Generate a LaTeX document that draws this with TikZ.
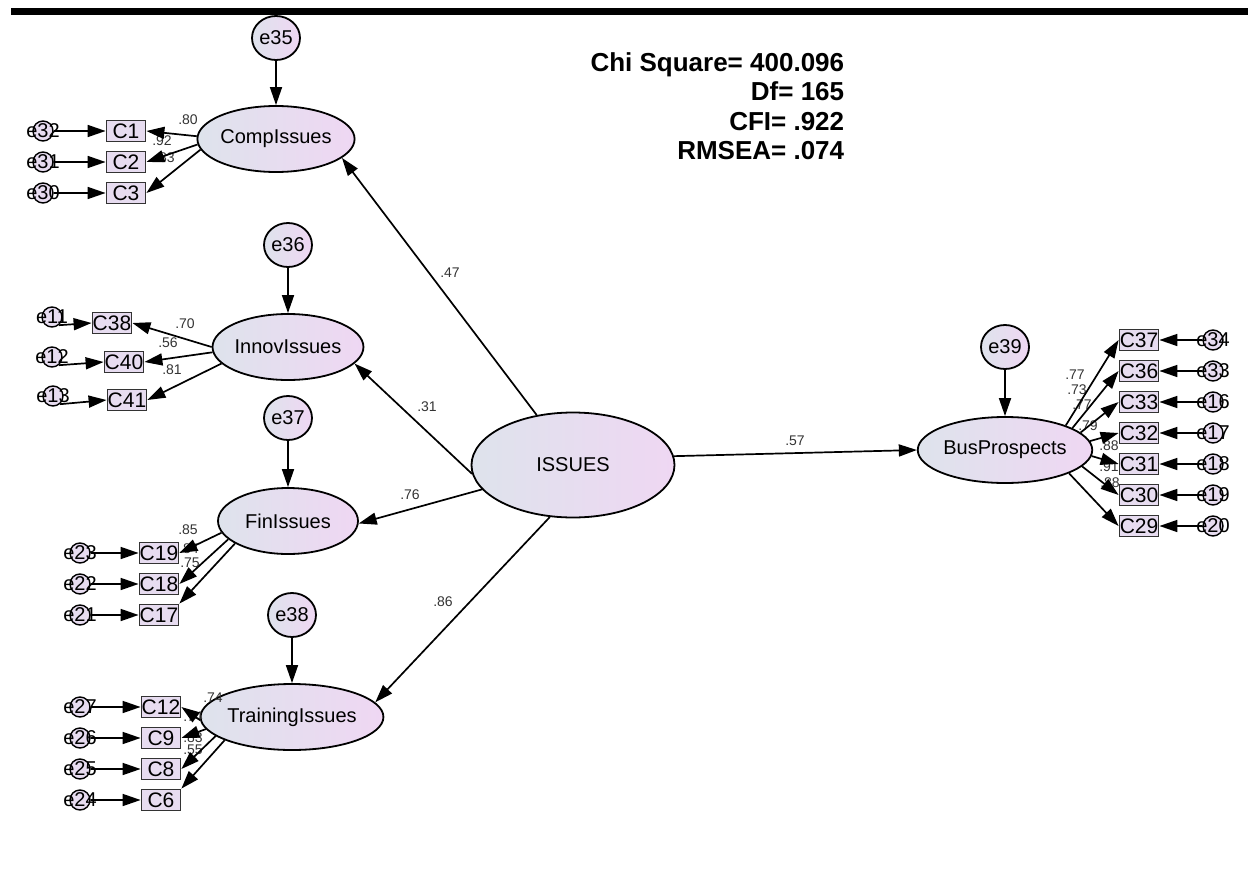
\documentclass[tikz,border=0pt]{standalone}
\usepackage{fontspec}
\setmainfont{Liberation Sans}
\usetikzlibrary{shapes.geometric,arrows.meta,positioning}
\definecolor{latL}{HTML}{DEE3EC}
\definecolor{latR}{HTML}{EFD7F3}
\definecolor{obsfill}{HTML}{E7DCF0}
\definecolor{lblgray}{HTML}{333333}

\begin{document}
\begin{tikzpicture}[x=1pt,y=-1pt,->,>={Triangle[length=18pt,width=12pt]},line width=1.7pt,
  lat/.style={ellipse,draw,line width=1.8pt,left color=latL,right color=latR,minimum width=140pt,minimum height=66pt,inner sep=0pt,font=\fontsize{20}{24}\selectfont},
  err/.style={ellipse,draw,line width=1.8pt,left color=latL,right color=latR,minimum width=48pt,minimum height=44pt,inner sep=0pt,font=\fontsize{20}{24}\selectfont},
  serr/.style={circle,draw,line width=1.4pt,fill=obsfill,minimum size=20pt,inner sep=0pt},
  stxt/.style={inner sep=0pt,font=\fontsize{20}{22}\selectfont},
  obs/.style={rectangle,draw=black!80,line width=1.8pt,fill=obsfill,minimum width=39pt,minimum height=21pt,inner sep=0pt,font=\fontsize{21}{22}\selectfont},
  lbl/.style={text=lblgray,inner sep=0pt,font=\fontsize{14}{16}\selectfont},
  stats/.style={align=right,inner sep=0pt,anchor=east,font=\bfseries\fontsize{26}{29.5}\selectfont}]
\useasboundingbox (0,0) rectangle (1248,886);
\fill[-] (11,8) rectangle (1248,15);

\node[stats](fit) at (845,106){Chi Square= 400.096\\Df= 165\\CFI= .922\\RMSEA= .074};

\node[lat,minimum width=203pt,minimum height=105pt](iss) at (573,465){ISSUES};
\node[lat](comp) at (276,139){CompIssues};
\node[lat](innov) at (288,347){InnovIssues};
\node[lat](fin) at (288,521){FinIssues};
\node[lat](train) at (292,717){TrainingIssues};
\node[lat](bus) at (1005,450){BusProspects};

\node[err](e35) at (276,38){e35};
\node[err](e36) at (288,245){e36};
\node[err](e37) at (288,418){e37};
\node[err](e38) at (292,615){e38};
\node[err](e39) at (1005,347){e39};

\node[obs](c1) at (126,131){C1};
\node[obs](c2)[below=8.2pt of c1]{C2};
\node[obs](c3)[below=8.2pt of c2]{C3};
\node[serr,label={[stxt]center:e32}](e32) at (43,131){};
\node[serr,label={[stxt]center:e31}](e31) at (43,162){};
\node[serr,label={[stxt]center:e30}](e30) at (43,193){};

\node[obs](c38) at (112,323){C38};
\node[obs](c40) at (124,362){C40};
\node[obs](c41) at (127,400){C41};
\node[serr,label={[stxt]center:e11}](e11) at (52,317){};
\node[serr,label={[stxt]center:e12}](e12) at (52,357){};
\node[serr,label={[stxt]center:e13}](e13) at (53,396){};

\node[obs](c19) at (159,553){C19};
\node[obs](c18)[below=8.2pt of c19]{C18};
\node[obs](c17)[below=8.2pt of c18]{C17};
\node[serr,label={[stxt]center:e23}](e23) at (80,553){};
\node[serr,label={[stxt]center:e22}](e22) at (80,584){};
\node[serr,label={[stxt]center:e21}](e21) at (80,615){};

\node[obs](c12) at (161,707){C12};
\node[obs](c9)[below=8.2pt of c12]{C9};
\node[obs](c8)[below=8.2pt of c9]{C8};
\node[obs](c6)[below=8.2pt of c8]{C6};
\node[serr,label={[stxt]center:e27}](e27) at (80,707){};
\node[serr,label={[stxt]center:e26}](e26) at (80,738){};
\node[serr,label={[stxt]center:e25}](e25) at (80,769){};
\node[serr,label={[stxt]center:e24}](e24) at (80,800){};

\node[obs](c37) at (1139,340){C37};
\node[obs](c36)[below=8.2pt of c37]{C36};
\node[obs](c33)[below=8.2pt of c36]{C33};
\node[obs](c32)[below=8.2pt of c33]{C32};
\node[obs](c31)[below=8.2pt of c32]{C31};
\node[obs](c30)[below=8.2pt of c31]{C30};
\node[obs](c29)[below=8.2pt of c30]{C29};
\node[serr,label={[stxt]center:e34}](e34) at (1213,340){};
\node[serr,label={[stxt]center:e33}](e33) at (1213,371){};
\node[serr,label={[stxt]center:e16}](e16) at (1213,402){};
\node[serr,label={[stxt]center:e17}](e17) at (1213,433){};
\node[serr,label={[stxt]center:e18}](e18) at (1213,464){};
\node[serr,label={[stxt]center:e19}](e19) at (1213,495){};
\node[serr,label={[stxt]center:e20}](e20) at (1213,526){};

\node[lbl](p47) at (450,273){.47};
\node[lbl](p31) at (427,407){.31};
\node[lbl](p76) at (410,495){.76};
\node[lbl](p86) at (443,602){.86};
\node[lbl](p57) at (795,441){.57};

\node[lbl](l1) at (188,120){.80};
\node[lbl](l2) at (162,141){.92};
\node[lbl](l3) at (165,158){.83};
\node[lbl](l38) at (185,324){.70};
\node[lbl](l40) at (168,343){.56};
\node[lbl](l41) at (172,370){.81};
\node[lbl](l19) at (188,530){.85};
\node[lbl](l18) at (189,549){.84};
\node[lbl](l17) at (190,563){.75};
\node[lbl](l12) at (213,698){.74};
\node[lbl](l9) at (193,717){.74};
\node[lbl](l8) at (193,738){.83};
\node[lbl](l6) at (193,750){.55};
\node[lbl](l37) at (1075,375){.77};
\node[lbl](l36) at (1077,390){.73};
\node[lbl](l33) at (1082,405){.77};
\node[lbl](l32) at (1088,426){.79};
\node[lbl](l31) at (1109,446){.88};
\node[lbl](l30) at (1109,467){.91};
\node[lbl](l29) at (1110,483){.88};

\path[->](iss.126)edge(comp.-16);
\path[->](iss.185)edge(innov.-14);
\path[->](iss.195)edge(fin.-2);
\path[->](iss.246)edge(train.10);
\path[->](iss.5)edge(bus.west);

\path[->](e35)edge(comp);
\path[->](e36)edge(innov);
\path[->](e37)edge(fin);
\path[->](e38)edge(train);
\path[->](e39)edge(bus);

\path[->](comp.178)edge(c1.east);
\path[->](comp.184)edge(c2.east);
\path[->](comp.188)edge(c3.east);
\path[->](innov.180)edge(c38.east);
\path[->](innov.184)edge(c40.east);
\path[->](innov.194)edge(c41.east);
\path[->](fin.190)edge(c19.east);
\path[->](fin.197)edge(c18.east);
\path[->](fin.203)edge(c17.north east);
\path[->](train.182)edge(c12.east);
\path[->](train.188)edge(c9.east);
\path[->](train.194)edge(c8.east);
\path[->](train.199)edge(c6.north east);
\path[->](bus.22)edge(c37.west);
\path[->](bus.18)edge(c36.west);
\path[->](bus.13)edge(c33.west);
\path[->](bus.6)edge(c32.west);
\path[->](bus.-4)edge(c31.west);
\path[->](bus.-12)edge(c30.west);
\path[->](bus.-20)edge(c29.west);

\path[->](e32)edge(c1);
\path[->](e31)edge(c2);
\path[->](e30)edge(c3);
\path[->](e11.-50)edge(c38.west);
\path[->](e12.-50)edge(c40.west);
\path[->](e13.-50)edge(c41.west);
\path[->](e23)edge(c19);
\path[->](e22)edge(c18);
\path[->](e21)edge(c17);
\path[->](e27)edge(c12);
\path[->](e26)edge(c9);
\path[->](e25)edge(c8);
\path[->](e24)edge(c6);
\path[->](e34)edge(c37);
\path[->](e33)edge(c36);
\path[->](e16)edge(c33);
\path[->](e17)edge(c32);
\path[->](e18)edge(c31);
\path[->](e19)edge(c30);
\path[->](e20)edge(c29);
\end{tikzpicture}
\end{document}
